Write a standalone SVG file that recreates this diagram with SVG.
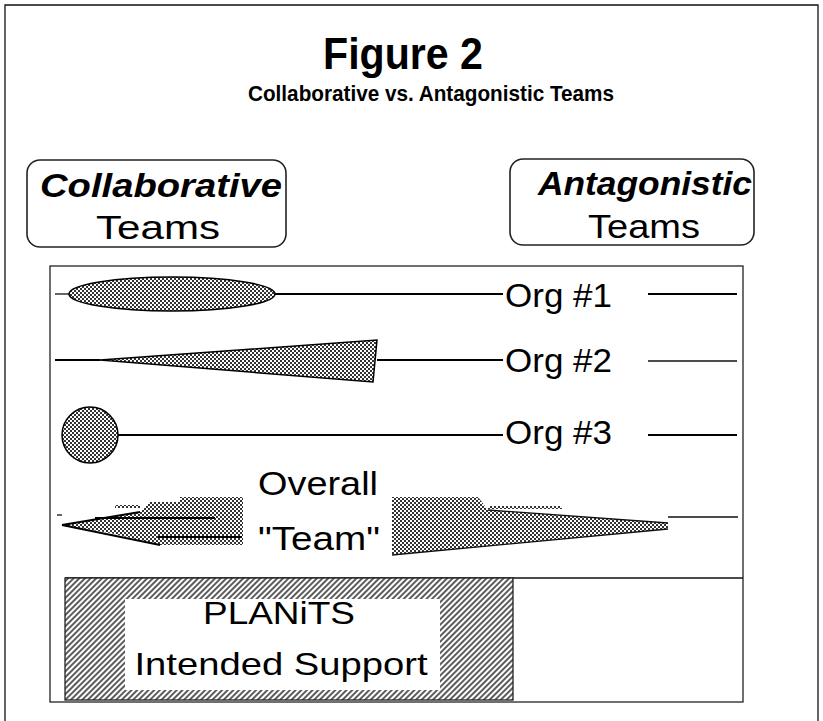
<svg xmlns="http://www.w3.org/2000/svg" width="823" height="721" viewBox="0 0 823 721">
<style>
  text { font-family: "Liberation Sans", Arial, sans-serif; fill: #000; }
  .title { font-size: 44px; font-weight: bold; }
  .sub { font-size: 22px; font-weight: bold; }
  .head { font-size: 33px; font-weight: bold; font-style: italic; }
  .reg { font-size: 34px; }
  .box { fill: #fff; stroke: #222; stroke-width: 1.6; }
  .ln { stroke: #000; stroke-width: 2; fill: none; }
  .thin { stroke: #111; stroke-width: 1.3; fill: none; }
  .tone { fill: url(#halftone); stroke: #000; stroke-width: 1.5; }
  .tone2 { fill: url(#halftone); stroke: none; }
</style>
<defs>
  <pattern id="halftone" width="4" height="4" patternUnits="userSpaceOnUse">
    <rect width="4" height="4" fill="#fff"/>
    <rect x="0" y="0" width="2" height="2" fill="#333"/>
    <rect x="2" y="2" width="2" height="2" fill="#333"/>
  </pattern>
  <pattern id="hatch" width="4" height="4" patternUnits="userSpaceOnUse" patternTransform="rotate(45)">
    <rect width="4" height="4" fill="#fff"/>
    <line x1="1" y1="0" x2="1" y2="4" stroke="#333" stroke-width="1.6"/>
  </pattern>
</defs>
<rect width="823" height="721" fill="#fff"/>
<g id="frame">
  <polyline class="thin" points="5,721 5,5 818,5 818,721" stroke-width="1.5"/>
</g>
<g id="title">
  <text class="title" x="403" y="69" text-anchor="middle" textLength="160" lengthAdjust="spacingAndGlyphs">Figure 2</text>
  <text class="sub" x="431" y="101" text-anchor="middle" textLength="366" lengthAdjust="spacingAndGlyphs">Collaborative vs.  Antagonistic Teams</text>
</g>
<g id="collaborative">
  <rect class="box" x="27" y="160" width="259" height="87" rx="13"/>
  <text class="head" x="40" y="197" textLength="242" lengthAdjust="spacingAndGlyphs">Collaborative</text>
  <text class="reg" x="158" y="239" text-anchor="middle" textLength="124" lengthAdjust="spacingAndGlyphs">Teams</text>
</g>
<g id="antagonistic">
  <rect class="box" x="510" y="159" width="244" height="86" rx="13"/>
  <text class="head" x="538" y="195" textLength="214" lengthAdjust="spacingAndGlyphs">Antagonistic</text>
  <text class="reg" x="644" y="238" text-anchor="middle" textLength="112" lengthAdjust="spacingAndGlyphs">Teams</text>
</g>
<g id="panel">
  <rect x="50" y="266" width="693" height="436" fill="none" stroke="#222" stroke-width="1.3"/>
  <line class="thin" x1="65" y1="578" x2="743" y2="578"/>
</g>
<g id="connectors">
  <line class="thin" x1="55" y1="294" x2="70" y2="294"/>
  <line class="ln" x1="275" y1="294" x2="503" y2="294"/>
  <line class="ln" x1="648" y1="294" x2="737" y2="294"/>
  <line class="ln" x1="55" y1="360" x2="100" y2="360"/>
  <line class="ln" x1="377" y1="360" x2="503" y2="360"/>
  <line class="thin" x1="648" y1="361" x2="737" y2="361"/>
  <line class="ln" x1="118" y1="435" x2="503" y2="435"/>
  <line class="ln" x1="648" y1="435" x2="737" y2="435"/>
  <line class="thin" x1="57" y1="515" x2="62" y2="515"/>
  <line class="thin" x1="668" y1="517" x2="738" y2="517"/>
</g>
<g id="org1">
  <ellipse class="tone" cx="172" cy="294" rx="103" ry="17"/>
  <text class="reg" x="505" y="307" textLength="107" lengthAdjust="spacingAndGlyphs">Org #1</text>
</g>
<g id="org2">
  <polygon class="tone" points="100,360 377,340 373,382"/>
  <text class="reg" x="505" y="372" textLength="107" lengthAdjust="spacingAndGlyphs">Org #2</text>
</g>
<g id="org3">
  <circle class="tone" cx="90" cy="435" r="28"/>
  <text class="reg" x="505" y="444" textLength="107" lengthAdjust="spacingAndGlyphs">Org #3</text>
</g>
<g id="overall-team">
  <polygon class="tone2" points="62,525 140,512 150,502 180,502 180,497 243,497 243,545 160,545 110,533"/>
  <rect class="tone2" x="115" y="505" width="25" height="3"/>
  <line class="ln" x1="62" y1="525" x2="140" y2="512" stroke-width="1.3"/>
  <line class="ln" x1="62" y1="525" x2="160" y2="545" stroke-width="1.3"/>
  <line class="ln" x1="95" y1="518" x2="215" y2="518" stroke-width="3"/>
  <line class="ln" x1="158" y1="537" x2="242" y2="537" stroke-width="3"/>
  <polygon class="tone2" points="392,497 478,497 488,510 668,523 668,529 392,555"/>
  <line class="thin" x1="488" y1="510" x2="668" y2="523"/>
  <line class="thin" x1="668" y1="529" x2="392" y2="555"/>
  <rect class="tone2" x="488" y="506" width="74" height="3"/>
  <text class="reg" x="258" y="495" textLength="120" lengthAdjust="spacingAndGlyphs">Overall</text>
  <text class="reg" x="258" y="550" textLength="122" lengthAdjust="spacingAndGlyphs">"Team"</text>
</g>
<g id="planits">
  <rect x="65" y="578" width="448" height="122" fill="url(#hatch)" stroke="#222" stroke-width="1.3"/>
  <rect x="125" y="599" width="315" height="91" fill="#fff"/>
  <text class="reg" x="279" y="624" text-anchor="middle" textLength="152" lengthAdjust="spacingAndGlyphs" style="font-size:32px">PLANiTS</text>
  <text class="reg" x="281" y="675" text-anchor="middle" textLength="293" lengthAdjust="spacingAndGlyphs" style="font-size:32px">Intended Support</text>
</g>
</svg>
